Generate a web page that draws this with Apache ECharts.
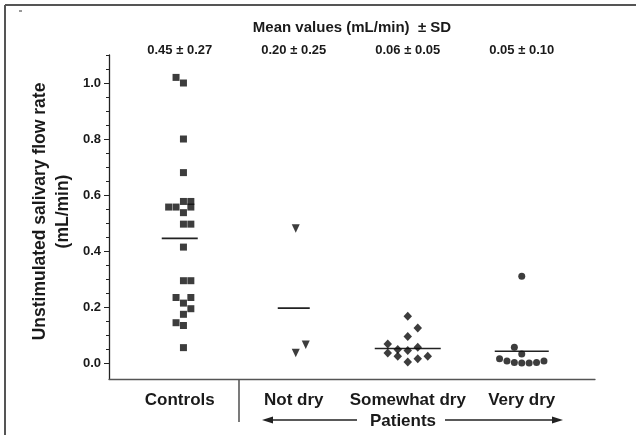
<!DOCTYPE html>
<html>
<head>
<meta charset="utf-8">
<script src="https://cdn.jsdelivr.net/npm/echarts@6/dist/echarts.min.js"></script>
<style>
html,body{margin:0;padding:0;background:#fff;}
#chart{width:636px;height:435px;}
</style>
</head>
<body>
<div id="chart"></div>
<script>
// ---- data ----
const categories = ['Controls', 'Not dry', 'Somewhat dry', 'Very dry'];
const meanSdLabels = ['0.45 \u00b1 0.27', '0.20 \u00b1 0.25', '0.06 \u00b1 0.05', '0.05 \u00b1 0.10'];
const yTickValues = [0, 0.2, 0.4, 0.6, 0.8, 1.0];
const yMinorTickValues = [0.05, 0.1, 0.15, 0.25, 0.3, 0.35, 0.45, 0.5, 0.55, 0.65, 0.7, 0.75, 0.85, 0.9, 0.95, 1.05, 1.1];

const controls = [1.02, 1.00, 0.80, 0.68, 0.577, 0.577, 0.557, 0.557, 0.557, 0.537, 0.496, 0.496, 0.414, 0.294, 0.294, 0.234, 0.234, 0.214, 0.194, 0.174, 0.144, 0.134, 0.055];
const notDry = [0.48, 0.065, 0.036];
const somewhatDry = [0.167, 0.125, 0.095, 0.068, 0.056, 0.048, 0.045, 0.036, 0.024, 0.015, 0.024, 0.004];
const veryDry = [0.31, 0.056, 0.032, 0.015, 0.007, 0.002, 0.0, 0.0, 0.002, 0.007];
const meanLine = [0.445, 0.196, 0.052, 0.042];

// jitter slots (beeswarm columns), per point
const controlsSlot = [-0.5, 0.5, 0.5, 0.5, 0.5, 1.5, 1.5, -1.5, -0.5, 0.5, 0.5, 1.5, 0.5, 0.5, 1.5, -0.5, 1.5, 0.5, 1.5, 0.5, -0.5, 0.5, 0.5];
const notDrySlot = [0.2, 1.2, 0.2];
const somewhatDrySlot = [0, 1, 0, -2, 1, -1, 0, -2, -1, 1, 2, 0];
const veryDrySlot = [0, -1, 0, -3, -2, -1, 0, 1, 2, 3];

// ---- layout / style ----
const X_MIN = 0.3794, X_MAX = 4.6425;
const GRID = {left: 109, top: 55, width: 486, height: 324};
const PX_PER_UNIT = GRID.width / (X_MAX - X_MIN);
const slotPx = [7.4, 10, 10, 7.4];
const meanHalfPx = [18, 16, 33, 27];
const FONT = '"Liberation Sans", Arial, sans-serif';
const INK = '#0d0d0d';

const groups = [
  {vals: controls, slots: controlsSlot, symbol: 'rect', size: 7, rot: 0},
  {vals: notDry, slots: notDrySlot, symbol: 'triangle', size: [8, 8.5], rot: 180},
  {vals: somewhatDry, slots: somewhatDrySlot, symbol: 'diamond', size: [8.5, 9], rot: 0},
  {vals: veryDry, slots: veryDrySlot, symbol: 'circle', size: 7, rot: 0}
];

const series = [];
groups.forEach((g, i) => {
  const gx = i + 1;
  series.push({
    type: 'scatter',
    symbol: g.symbol,
    symbolSize: g.size,
    symbolRotate: g.rot,
    itemStyle: {color: INK},
    data: g.vals.map((v, k) => [gx + g.slots[k] * slotPx[i] / PX_PER_UNIT, v]),
    z: 3
  });
  const hw = meanHalfPx[i] / PX_PER_UNIT;
  series.push({
    type: 'line',
    symbol: 'none',
    lineStyle: {color: '#222', width: 1.6},
    data: [[gx - hw, meanLine[i]], [gx + hw, meanLine[i]]],
    z: 2
  });
});

const chart = echarts.init(document.getElementById('chart'), null, {renderer: 'canvas'});
chart.setOption({
  animation: false,
  backgroundColor: '#fff',
  grid: GRID,
  xAxis: [
    {
      type: 'value', min: X_MIN, max: X_MAX, position: 'bottom',
      axisLine: {show: true, onZero: false, lineStyle: {color: '#555', width: 1.3}},
      axisTick: {show: false},
      splitLine: {show: false},
      axisLabel: {
        customValues: [1, 2, 3, 4],
        formatter: v => categories[Math.round(v) - 1],
        fontFamily: FONT, fontWeight: 'bold', fontSize: 17, color: '#1a1a1a', margin: 13
      }
    },
    {
      type: 'value', min: X_MIN, max: X_MAX, position: 'top',
      axisLine: {show: false, onZero: false}, axisTick: {show: false}, splitLine: {show: false},
      axisLabel: {
        customValues: [1, 2, 3, 4],
        formatter: v => meanSdLabels[Math.round(v) - 1],
        fontFamily: FONT, fontWeight: 'bold', fontSize: 13, color: '#1a1a1a', margin: -2
      },
      name: 'Mean values (mL/min)  \u00b1 SD',
      nameLocation: 'middle', nameGap: 20,
      nameTextStyle: {fontFamily: FONT, fontWeight: 'bold', fontSize: 15, color: '#1a1a1a'}
    }
  ],
  yAxis: [
    {
      type: 'value', min: -0.057, max: 1.1, position: 'left',
      axisLine: {show: true, onZero: false, lineStyle: {color: '#222', width: 1.3}},
      axisTick: {show: true, customValues: yTickValues, length: 5, lineStyle: {color: '#222', width: 1}},
      axisLabel: {
        customValues: yTickValues,
        formatter: v => v.toFixed(1),
        fontFamily: FONT, fontWeight: 'bold', fontSize: 13, color: '#1a1a1a', margin: 8
      },
      splitLine: {show: false}
    },
    {
      type: 'value', min: -0.057, max: 1.1, position: 'left', offset: 0,
      axisLine: {show: false, onZero: false},
      axisTick: {show: true, customValues: yMinorTickValues, length: 3, lineStyle: {color: '#222', width: 1}},
      axisLabel: {show: false},
      splitLine: {show: false}
    }
  ],
  series: series,
  graphic: [
    {type: 'line', shape: {x1: 5, y1: 5, x2: 636, y2: 5}, style: {stroke: '#555', lineWidth: 2}},
    {type: 'line', shape: {x1: 5, y1: 5, x2: 5, y2: 435}, style: {stroke: '#555', lineWidth: 2}},
    {type: 'line', shape: {x1: 19, y1: 11, x2: 22, y2: 11}, style: {stroke: '#333', lineWidth: 1}},
    {
      type: 'text', x: 51.5, y: 211.5, rotation: Math.PI / 2,
      style: {
        text: 'Unstimulated salivary flow rate\n(mL/min)',
        fontFamily: FONT, fontWeight: 'bold', fontSize: 17.5, lineHeight: 23,
        fill: '#1a1a1a', align: 'center', verticalAlign: 'middle'
      }
    },
    {type: 'line', shape: {x1: 239, y1: 379, x2: 239, y2: 422}, style: {stroke: '#333', lineWidth: 1.3}},
    {
      type: 'text', x: 403, y: 421,
      style: {text: 'Patients', fontFamily: FONT, fontWeight: 'bold', fontSize: 17, fill: '#1a1a1a', align: 'center', verticalAlign: 'middle'}
    },
    {type: 'line', shape: {x1: 268, y1: 420, x2: 357, y2: 420}, style: {stroke: '#222', lineWidth: 1.3}},
    {type: 'polygon', shape: {points: [[262, 420], [273, 416.5], [273, 423.5]]}, style: {fill: '#222'}},
    {type: 'line', shape: {x1: 445, y1: 420, x2: 557, y2: 420}, style: {stroke: '#222', lineWidth: 1.3}},
    {type: 'polygon', shape: {points: [[563, 420], [552, 416.5], [552, 423.5]]}, style: {fill: '#222'}}
  ]
});
</script>
</body>
</html>
